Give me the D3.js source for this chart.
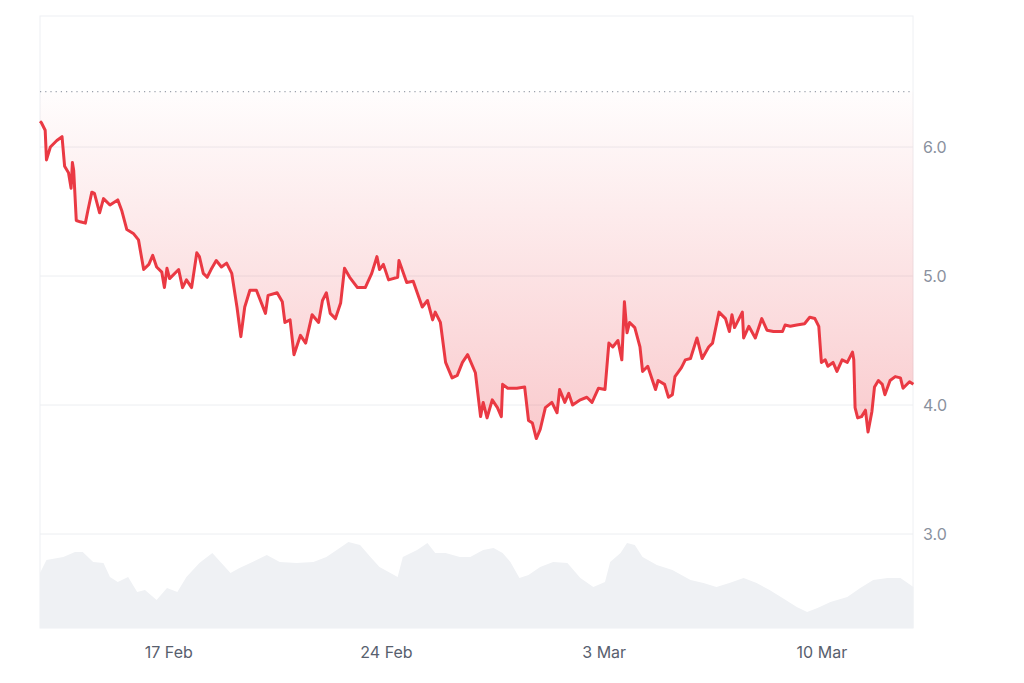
<!DOCTYPE html>
<html><head><meta charset="utf-8">
<script src="https://cdn.jsdelivr.net/npm/d3@7"></script>
<style>html,body{margin:0;padding:0;background:#fff;}svg{display:block;font-family:Inter,"Noto Sans",sans-serif;}</style>
</head><body><svg id="c" width="1024" height="683"></svg>
<script>
const startTime = "2025-02-12T21:00:00";
const spanHours = 673.7;
const priceHours = [0,1,4,5,8,13,17,19,22,24,25,26,28,31,35,37,40,42,46,49,54,60,63,67,72,76,80,84,87,90,94,96,98,100,107,110,113,117,121,123,126,129,132,136,140,144,148,152,155,158,162,167,174,176,183,187,189,193,196,201,205,210,215,218,221,224,228,232,235,239,245,251,256,260,262,265,269,276,277,283,288,295,299,303,305,309,313,318,322,326,330,336,340,342,345,349,353,356,357,361,368,374,377,380,383,386,390,395,399,401,405,408,411,417,422,426,431,436,439,442,446,449,451,453,455,459,463,465,469,475,477,482,485,488,490,495,498,502,507,511,516,519,524,529,532,534,536,542,543,547,552,557,561,566,573,575,579,584,590,594,598,601,603,606,608,612,615,619,623,627,628,629,631,634,637,639,642,644,647,650,652,656,660,664,666,671,674];
const priceValues = [6.2,6.19,6.13,5.90,6.00,6.05,6.08,5.85,5.80,5.68,5.88,5.82,5.43,5.42,5.41,5.51,5.65,5.64,5.49,5.60,5.55,5.59,5.51,5.36,5.33,5.28,5.05,5.09,5.16,5.07,5.03,4.91,5.06,4.98,5.05,4.91,4.97,4.91,5.18,5.15,5.02,4.99,5.05,5.12,5.07,5.10,5.02,4.76,4.53,4.76,4.89,4.89,4.71,4.85,4.87,4.80,4.64,4.66,4.39,4.54,4.48,4.70,4.64,4.81,4.87,4.71,4.67,4.79,5.06,4.99,4.91,4.91,5.02,5.15,5.05,5.09,4.97,4.99,5.12,4.95,4.96,4.76,4.81,4.66,4.72,4.64,4.33,4.21,4.23,4.33,4.39,4.25,3.91,4.02,3.90,4.04,3.98,3.91,4.16,4.13,4.13,4.14,3.88,3.86,3.74,3.81,3.98,4.02,3.94,4.12,4.02,4.09,4.00,4.04,4.06,4.02,4.13,4.12,4.48,4.45,4.50,4.35,4.80,4.56,4.64,4.60,4.45,4.26,4.30,4.12,4.19,4.16,4.06,4.08,4.22,4.29,4.35,4.36,4.52,4.36,4.45,4.48,4.72,4.67,4.57,4.70,4.60,4.72,4.52,4.61,4.52,4.67,4.58,4.57,4.57,4.62,4.61,4.62,4.63,4.68,4.67,4.61,4.33,4.35,4.30,4.33,4.26,4.35,4.33,4.41,4.35,3.98,3.90,3.91,3.96,3.79,3.95,4.14,4.19,4.16,4.08,4.19,4.22,4.21,4.13,4.18,4.16];
const volumeHours = [0,5,18,27,33,41,49,54,60,68,75,81,90,98,106,113,123,133,140,147,154,164,175,185,198,211,221,229,238,247,255,262,269,276,280,291,299,305,313,324,332,342,350,357,363,370,377,386,396,407,417,427,436,440,448,453,459,465,476,488,502,512,522,532,543,553,563,573,584,592,600,610,623,633,643,654,664,674];
const volumeValues = [55,68,71,76,76,66,65,51,46,51,36,38,28,40,36,51,65,75,65,55,60,66,73,66,65,66,71,78,86,83,71,61,56,51,71,78,85,75,75,71,71,78,80,75,66,50,53,61,66,65,50,41,46,66,75,85,83,71,63,58,48,45,41,45,50,45,38,30,21,16,20,26,31,40,48,50,50,41];
const yTicks = [3,4,5,6];
const refLevel = 6.43;
const xTickDates = ["2025-02-17","2025-02-24","2025-03-03","2025-03-10"];

const svg = d3.select("#c");
const t0 = new Date(startTime);
const toDate = h => new Date(t0.getTime() + h*3600e3);
const x = d3.scaleTime().domain([t0, toDate(spanHours)]).range([40, 913]);
const y = d3.scaleLinear().domain([3, 6]).range([534, 147]);
const yv = d3.scaleLinear().domain([0, 88]).range([628, 540]);
const price = priceHours.map((h,i)=>({d:toDate(h), v:priceValues[i]}));
const vol = volumeHours.map((h,i)=>({d:toDate(h), v:volumeValues[i]}));

const defs = svg.append("defs");
const g = defs.append("linearGradient").attr("id","pg").attr("x1",0).attr("x2",0)
  .attr("gradientUnits","userSpaceOnUse").attr("y1", y(refLevel)).attr("y2", y(3.8));
g.append("stop").attr("offset",0).attr("stop-color","#ea3943").attr("stop-opacity",0.01);
g.append("stop").attr("offset",1).attr("stop-color","#ea3943").attr("stop-opacity",0.26);

svg.append("rect").attr("x",40).attr("y",16).attr("width",873).attr("height",612)
  .attr("fill","none").attr("stroke","#eef0f3").attr("stroke-width",1);

svg.append("g").selectAll("line").data(yTicks).join("line")
  .attr("x1",40).attr("x2",913).attr("y1",d=>y(d)).attr("y2",d=>y(d))
  .attr("stroke","#eceef1").attr("stroke-width",1);

svg.append("path").datum(vol).attr("fill","#eff1f4")
  .attr("d", d3.area().x(d=>x(d.d)).y0(yv(0)).y1(d=>yv(d.v)));

svg.append("path").datum(price).attr("fill","url(#pg)")
  .attr("d", d3.area().x(d=>x(d.d)).y0(y(refLevel)).y1(d=>y(d.v)));

svg.append("line").attr("x1",40).attr("x2",913).attr("y1",y(refLevel)).attr("y2",y(refLevel))
  .attr("stroke","#9aa0ab").attr("stroke-width",1.2).attr("stroke-dasharray","1.2,4");

svg.append("path").datum(price).attr("fill","none").attr("stroke","#ea3943")
  .attr("stroke-width",3).attr("stroke-linejoin","round")
  .attr("d", d3.line().x(d=>x(d.d)).y(d=>y(d.v)));

const ya = svg.append("g").attr("transform","translate(913,0)")
  .call(d3.axisRight(y).tickValues(yTicks).tickFormat(d3.format(".1f")).tickSize(0).tickPadding(10));
ya.select(".domain").remove();
ya.selectAll("text").attr("fill","#8a919e").attr("font-size",16).attr("font-family","Inter,'Noto Sans',sans-serif");

const xa = svg.append("g").attr("transform","translate(0,628)")
  .call(d3.axisBottom(x).tickValues(xTickDates.map(s=>new Date(s+"T00:00:00"))).tickFormat(d3.timeFormat("%-d %b")).tickSize(0).tickPadding(19));
xa.select(".domain").remove();
xa.selectAll("text").attr("fill","#58606e").attr("font-size",16).attr("font-family","Inter,'Noto Sans',sans-serif");
</script></body></html>
